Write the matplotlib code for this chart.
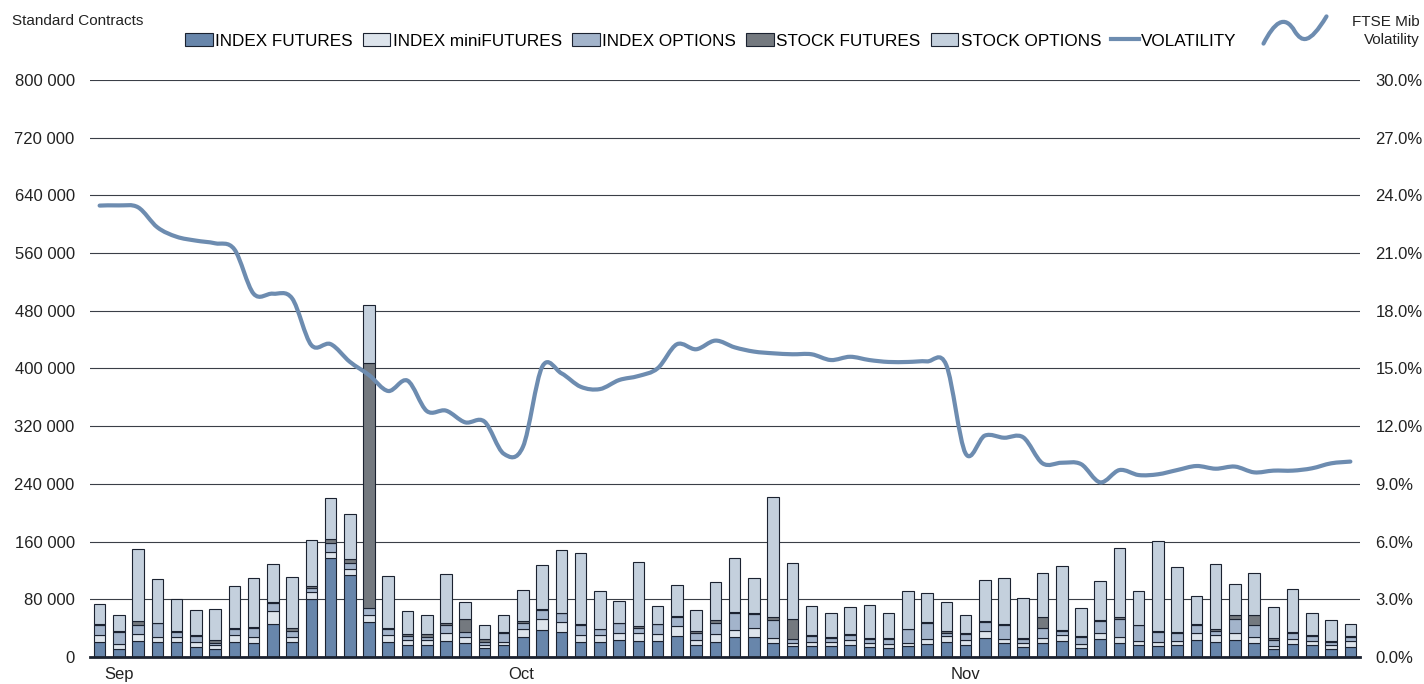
import numpy as np
import matplotlib
matplotlib.use("Agg")
import matplotlib.pyplot as plt
from matplotlib.path import Path
from matplotlib.patches import PathPatch, Patch
from matplotlib.lines import Line2D
from matplotlib.ticker import FuncFormatter, MultipleLocator

plt.rcParams['font.family'] = ['Liberation Sans', 'DejaVu Sans']

# daily volumes, thousands of standard contracts (66 trading days Sep-Nov)
index_futures = [21.3, 11.6, 22.2, 20.3, 20.3, 13.4, 11.6, 21.3, 19.9, 45.7,
                 21.3, 80.9, 136.8, 113.7, 48.1, 21.3, 16.2, 16.2, 22.6, 19.9,
                 12.0, 16.2, 28.2, 37.4, 34.7, 21.3, 21.3, 23.6, 22.6, 22.6,
                 29.6, 16.2, 21.3, 27.7, 27.3, 19.9, 15.2, 15.2, 15.2, 16.6,
                 13.4, 12.9, 15.2, 17.6, 21.3, 16.6, 26.3, 19.9, 13.9, 18.9,
                 22.2, 12.9, 25.4, 19.9, 16.6, 15.2, 16.6, 23.6, 21.3, 23.6,
                 19.9, 10.6, 18.5, 16.2, 10.6, 14.3]
index_minifutures = [8.7, 6.0, 10.1, 7.4, 7.9, 7.4, 5.0, 8.7, 8.3, 17.6,
                     6.9, 9.2, 8.8, 7.8, 10.1, 8.7, 7.4, 6.9, 11.1, 7.4,
                     5.1, 5.1, 11.1, 15.3, 14.3, 9.2, 8.7, 10.1, 10.2, 9.7,
                     13.8, 6.9, 10.1, 9.3, 12.4, 6.9, 4.7, 5.1, 5.6, 7.0,
                     5.5, 5.6, 4.7, 6.9, 7.8, 7.0, 9.7, 5.5, 6.0, 7.0,
                     7.8, 5.6, 7.9, 8.3, 6.0, 5.6, 6.0, 9.2, 9.7, 9.2,
                     7.4, 5.1, 6.0, 6.0, 5.6, 7.4]
index_options = [14.8, 17.1, 11.6, 19.0, 6.9, 8.3, 3.3, 9.3, 11.5, 12.0,
                 7.8, 6.0, 12.0, 9.3, 9.3, 9.3, 5.5, 5.1, 10.2, 7.8,
                 4.2, 11.5, 8.3, 12.0, 11.5, 13.9, 8.4, 13.0, 7.9, 13.0,
                 12.5, 9.7, 15.3, 24.5, 20.4, 24.5, 5.5, 8.8, 5.1, 6.9,
                 5.6, 6.9, 18.5, 23.1, 4.6, 7.8, 12.5, 19.0, 4.6, 14.8,
                 6.0, 9.7, 17.1, 24.9, 21.3, 13.4, 10.2, 12.0, 5.0, 20.3,
                 17.1, 7.9, 8.3, 6.9, 5.1, 5.6]
stock_futures = [0.9, 1.3, 6.0, 0.9, 0.9, 0.9, 3.7, 0.9, 1.4, 0.9,
                 4.2, 1.9, 6.4, 4.6, 339.7, 0.9, 2.8, 3.2, 2.8, 18.0,
                 3.2, 1.9, 2.8, 1.4, 1.0, 0.9, 0.9, 0.9, 1.8, 0.9,
                 0.9, 2.8, 4.1, 0.9, 0.9, 3.7, 26.8, 0.9, 1.4, 0.9,
                 1.4, 1.4, 0.9, 0.9, 2.3, 2.3, 1.9, 1.3, 1.4, 14.3,
                 1.4, 0.9, 0.9, 2.8, 0.9, 1.4, 1.4, 1.4, 2.4, 4.7,
                 13.4, 2.3, 1.9, 1.9, 1.3, 1.8]
stock_options = [27.3, 22.2, 99.8, 61.0, 44.9, 35.2, 42.9, 58.7, 68.4, 53.2,
                 71.2, 64.2, 56.9, 63.3, 80.8, 72.1, 31.4, 27.3, 68.8, 23.1,
                 20.3, 23.1, 42.5, 61.9, 86.4, 99.3, 52.7, 30.5, 89.7, 24.0,
                 42.6, 30.0, 53.2, 75.3, 48.1, 167.3, 78.6, 40.7, 33.7, 37.5,
                 46.2, 33.7, 52.7, 40.7, 40.7, 25.0, 55.9, 64.3, 55.9, 61.9,
                 88.3, 38.4, 54.5, 94.7, 47.2, 125.7, 90.6, 38.4, 90.5, 42.9,
                 59.1, 43.4, 59.1, 30.0, 29.2, 17.1]
# FTSE Mib implied volatility, %
volatility = [23.47, 23.48, 23.38, 22.34, 21.85, 21.65, 21.51, 21.2, 18.89, 18.89,
              18.65, 16.22, 16.27, 15.35, 14.66, 13.83, 14.37, 12.79, 12.81, 12.2,
              12.24, 10.57, 10.93, 15.09, 14.75, 14.05, 13.93, 14.4, 14.61, 15.01,
              16.26, 16.0, 16.45, 16.1, 15.88, 15.79, 15.74, 15.74, 15.44, 15.61,
              15.44, 15.34, 15.34, 15.37, 15.18, 10.59, 11.51, 11.4, 11.42, 10.07,
              10.1, 10.03, 9.08, 9.72, 9.46, 9.5, 9.72, 9.93, 9.79, 9.9,
              9.6, 9.69, 9.69, 9.81, 10.07, 10.16]
months = ['Sep', 'Oct', 'Nov']
month_pos = [1.0, 21.9, 45.0]

series = [('INDEX FUTURES', index_futures, '#6886ab'),
          ('INDEX miniFUTURES', index_minifutures, '#dde4ec'),
          ('INDEX OPTIONS', index_options, '#a3b4cb'),
          ('STOCK FUTURES', stock_futures, '#74797f'),
          ('STOCK OPTIONS', stock_options, '#c4d0dd')]
line_col = '#6d8cb0'
edge = '#1b2230'

fig = plt.figure(figsize=(14.24, 6.84), dpi=100)
ax = fig.add_axes([90 / 1424, 1 - 657 / 684, 1270 / 1424, 577 / 684])
ax2 = ax.twinx()
ax.set_zorder(1)
ax2.set_zorder(2)
ax.patch.set_visible(False)

x = np.arange(len(index_futures))
bottom = np.zeros(len(x))
for name, vals, col in series:
    v = np.array(vals) * 1000
    ax.bar(x, v, 0.6, bottom=bottom, color=col, edgecolor=edge, linewidth=0.8, zorder=3)
    bottom += v

ax.set_xlim(-0.5, 65.5)
ax.set_ylim(0, 800000)
ax.yaxis.set_major_locator(MultipleLocator(80000))
ax.yaxis.set_major_formatter(FuncFormatter(lambda v, p: '{:,.0f}'.format(v).replace(',', ' ')))
ax.grid(axis='y', color='#3a3f47', linewidth=0.8, zorder=0)
ax.set_axisbelow(True)
for s in ['top', 'left', 'right']:
    ax.spines[s].set_visible(False)
ax.spines['bottom'].set_color('#1b2230')
ax.spines['bottom'].set_linewidth(2)
ax.spines['bottom'].set_zorder(5)
ax.set_xticks(month_pos)
ax.set_xticklabels(months)
ax.tick_params(axis='both', length=0, labelsize=12, colors='#222222')
ax.tick_params(axis='x', pad=7)
ax.tick_params(axis='y', pad=11)

# smoothed volatility line (Catmull-Rom through the daily points)
pts = np.column_stack([x, volatility])
ext = np.vstack([pts[0], pts, pts[-1]])
verts = [tuple(pts[0])]
codes = [Path.MOVETO]
for i in range(len(pts) - 1):
    p0, p1, p2, p3 = ext[i], ext[i + 1], ext[i + 2], ext[i + 3]
    c1 = p1 + (p2 - p0) / 6
    c2 = p2 - (p3 - p1) / 6
    verts += [tuple(c1), tuple(c2), tuple(p2)]
    codes += [Path.CURVE4] * 3
ax2.add_patch(PathPatch(Path(verts, codes), fill=False, edgecolor=line_col,
                        linewidth=3, capstyle='round', joinstyle='round'))
ax2.set_ylim(0, 30)
ax2.yaxis.set_major_locator(MultipleLocator(3))
ax2.yaxis.set_major_formatter(FuncFormatter(lambda v, p: '{:.1f}%'.format(v)))
ax2.tick_params(axis='y', length=0, labelsize=12, colors='#222222', pad=11)
for s in ['top', 'left', 'right', 'bottom']:
    ax2.spines[s].set_visible(False)

handles = [Patch(facecolor=c, edgecolor=edge, linewidth=0.8) for _, _, c in series]
handles.append(Line2D([], [], color=line_col, linewidth=3))
labels = [n for n, _, _ in series] + ['VOLATILITY']
fig.legend(handles, labels, loc='center', bbox_to_anchor=(711 / 1424, 1 - 41 / 684),
           ncol=6, frameon=False, fontsize=12.3, handlelength=1.6, handleheight=0.75,
           handletextpad=0.15, columnspacing=0.6)

fig.text(12 / 1424, 1 - 21 / 684, 'Standard Contracts', fontsize=11, va='center', color='#222222')
fig.text(1420 / 1424, 1 - 31 / 684, 'FTSE Mib\nVolatility', fontsize=11, ha='right',
         va='center', color='#222222', linespacing=1.3)

# small wave icon next to the right-axis title
icon = fig.add_axes([1260 / 1424, 1 - 47 / 684, 70 / 1424, 34 / 684])
icon.axis('off')
icon.set_xlim(0, 1)
icon.set_ylim(0, 1)
wv = [(0.05, 0.1), (0.2, 0.7), (0.35, 1.0), (0.5, 0.45), (0.6, 0.15), (0.7, 0.05), (0.95, 0.9)]
wc = [Path.MOVETO, Path.CURVE4, Path.CURVE4, Path.CURVE4, Path.CURVE4, Path.CURVE4, Path.CURVE4]
icon.add_patch(PathPatch(Path(wv, wc), fill=False, edgecolor=line_col, linewidth=3, capstyle='round'))

fig.savefig('out.png', dpi=100)
